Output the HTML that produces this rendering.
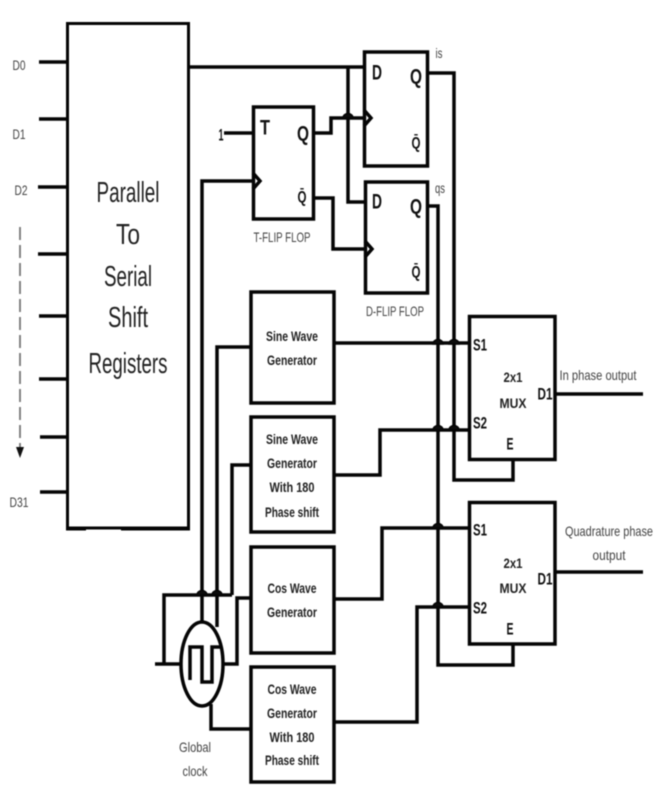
<!DOCTYPE html>
<html><head><meta charset="utf-8"><title>Parallel to serial modulator diagram</title>
<style>
html,body{margin:0;padding:0;background:#fff;width:667px;height:802px;overflow:hidden}
svg{display:block;filter:blur(.6px)}
text{font-family:"Liberation Sans",sans-serif;text-anchor:middle;dominant-baseline:central;fill:#333}
.g{fill:#444;font-size:14px}
.s{font-size:14px;font-weight:bold;fill:#222}
.l{font-size:21px;font-weight:bold;fill:#111}
.m{font-size:17px;font-weight:bold;fill:#111}
.b{font-size:29px;fill:#222}
.h{fill:#0c0c0c;stroke-width:1.5}
</style></head><body>
<svg width="667" height="802" viewBox="0 0 667 802" xmlns="http://www.w3.org/2000/svg">
<rect width="667" height="802" fill="#fff"/>
<g fill="none" stroke="#050505" stroke-width="3.5">
<!-- main register -->
<rect x="67.5" y="23.5" width="121" height="504.5" stroke-width="3"/>
<path d="M66 528.5H86M121 528.5H190" stroke-width="4"/>
<path d="M39 62H67M39 119H67M38 187H67M38 254H67M39 316H67M39 379H67M40 437H67M40 492H67" stroke-width="3.5"/>
<path d="M20 227V448" stroke="#777" stroke-width="1.8" stroke-dasharray="13 5"/>
<!-- flip flops -->
<rect x="364.5" y="52" width="63" height="114"/>
<rect x="253.5" y="107" width="60" height="112"/>
<rect x="365.5" y="182" width="62" height="111"/>
<path d="M364 110L371 118L364 126"/><path d="M253 173L260 181L253 189"/><path d="M365 241L372 249L365 257"/>
<!-- generators -->
<rect x="251" y="292" width="83" height="111"/>
<rect x="251" y="417" width="83" height="115"/>
<rect x="251" y="547" width="83" height="106"/>
<rect x="251" y="667" width="83" height="115"/>
<!-- muxes -->
<rect x="469.5" y="316.5" width="85.5" height="143"/>
<rect x="469.5" y="502.5" width="85.5" height="141.5"/>
<!-- wires -->
<path d="M188 67H364"/>
<path d="M348 67V202H365"/>
<path d="M224 133H253"/>
<path d="M313 133H331V118H364"/>
<path d="M313 198H333V249H365"/>
<path d="M427 73H454V480H513V459"/>
<path d="M427 206H438V665H513V644"/>
<path d="M202 622V181H253"/>
<path d="M217 627V347H251"/>
<path d="M232 595V465H251"/>
<path d="M334 343H469"/>
<path d="M334 475H380V430H469"/>
<path d="M334 599H382V528H469"/>
<path d="M334 722H417V607H469"/>
<path d="M555 394H643M555 572H643"/>
<!-- clock -->
<ellipse cx="202" cy="664" rx="21" ry="42"/>
<path d="M190 680V647H202V682H212V647H221"/>
<path d="M155 664H181"/>
<path d="M164 664V595H232"/>
<path d="M223 664H237V598H251"/>
<path d="M211 704V729H251"/>
<!-- humps -->
<g class="h">
<path d="M343 118a5 4.5 0 0 1 10 0Z"/>
<path d="M433 344a5 4.5 0 0 1 10 0ZM449 344a5 4.5 0 0 1 10 0Z"/>
<path d="M433 430a5 4.5 0 0 1 10 0ZM449 430a5 4.5 0 0 1 10 0Z"/>
<path d="M433 528a5 4.5 0 0 1 10 0Z"/>
<path d="M433 607a5 4.5 0 0 1 10 0Z"/>
<path d="M197 595a5 4.5 0 0 1 10 0ZM212 595a5 4.5 0 0 1 10 0Z"/>
</g>
</g>
<path d="M16 447H24L20 458Z" fill="#111"/>
<!-- labels -->
<text class="g" x="19" y="65" textLength="13" lengthAdjust="spacingAndGlyphs">D0</text>
<text class="g" x="19" y="134" textLength="13" lengthAdjust="spacingAndGlyphs">D1</text>
<text class="g" x="21" y="190" textLength="13" lengthAdjust="spacingAndGlyphs">D2</text>
<text class="g" x="19" y="502" textLength="19" lengthAdjust="spacingAndGlyphs">D31</text>
<text class="b" x="128" y="193" textLength="63" lengthAdjust="spacingAndGlyphs">Parallel</text>
<text class="b" x="128" y="235" textLength="24" lengthAdjust="spacingAndGlyphs">To</text>
<text class="b" x="128" y="277" textLength="48" lengthAdjust="spacingAndGlyphs">Serial</text>
<text class="b" x="128" y="318" textLength="40" lengthAdjust="spacingAndGlyphs">Shift</text>
<text class="b" x="128" y="364" textLength="79" lengthAdjust="spacingAndGlyphs">Registers</text>
<text class="m" x="221" y="135" textLength="5" lengthAdjust="spacingAndGlyphs">1</text>
<text class="l" x="265" y="128" textLength="10" lengthAdjust="spacingAndGlyphs">T</text>
<text class="l" x="303" y="134" textLength="12" lengthAdjust="spacingAndGlyphs">Q</text>
<text class="m" x="302" y="197" textLength="9" lengthAdjust="spacingAndGlyphs">Q̄</text>
<text class="l" x="377" y="73" textLength="10" lengthAdjust="spacingAndGlyphs">D</text>
<text class="l" x="416" y="77" textLength="12" lengthAdjust="spacingAndGlyphs">Q</text>
<text class="m" x="416" y="143" textLength="9" lengthAdjust="spacingAndGlyphs">Q̄</text>
<text class="l" x="377" y="202" textLength="10" lengthAdjust="spacingAndGlyphs">D</text>
<text class="l" x="416" y="207" textLength="12" lengthAdjust="spacingAndGlyphs">Q</text>
<text class="m" x="416" y="272" textLength="9" lengthAdjust="spacingAndGlyphs">Q̄</text>
<text class="g" x="439" y="53" textLength="7" lengthAdjust="spacingAndGlyphs">is</text>
<text class="g" x="440" y="188" textLength="10" lengthAdjust="spacingAndGlyphs">qs</text>
<text class="g" x="282" y="237" textLength="57" lengthAdjust="spacingAndGlyphs">T-FLIP FLOP</text>
<text class="g" x="395" y="311" textLength="58" lengthAdjust="spacingAndGlyphs">D-FLIP FLOP</text>
<text class="s" x="292" y="336" textLength="52" lengthAdjust="spacingAndGlyphs">Sine Wave</text>
<text class="s" x="292" y="360" textLength="50" lengthAdjust="spacingAndGlyphs">Generator</text>
<text class="s" x="292" y="439" textLength="52" lengthAdjust="spacingAndGlyphs">Sine Wave</text>
<text class="s" x="292" y="463" textLength="50" lengthAdjust="spacingAndGlyphs">Generator</text>
<text class="s" x="292" y="487" textLength="45" lengthAdjust="spacingAndGlyphs">With 180</text>
<text class="s" x="292" y="512" textLength="54" lengthAdjust="spacingAndGlyphs">Phase shift</text>
<text class="s" x="292" y="588" textLength="49" lengthAdjust="spacingAndGlyphs">Cos Wave</text>
<text class="s" x="292" y="612" textLength="50" lengthAdjust="spacingAndGlyphs">Generator</text>
<text class="s" x="292" y="689" textLength="49" lengthAdjust="spacingAndGlyphs">Cos Wave</text>
<text class="s" x="292" y="713" textLength="50" lengthAdjust="spacingAndGlyphs">Generator</text>
<text class="s" x="292" y="737" textLength="45" lengthAdjust="spacingAndGlyphs">With 180</text>
<text class="s" x="292" y="760" textLength="54" lengthAdjust="spacingAndGlyphs">Phase shift</text>
<text class="g" x="195" y="747" textLength="32" lengthAdjust="spacingAndGlyphs">Global</text>
<text class="g" x="195" y="771" textLength="25" lengthAdjust="spacingAndGlyphs">clock</text>
<text class="m" x="480" y="345" textLength="14" lengthAdjust="spacingAndGlyphs">S1</text>
<text class="m" x="480" y="423" textLength="14" lengthAdjust="spacingAndGlyphs">S2</text>
<text class="s" x="513" y="377" textLength="19" lengthAdjust="spacingAndGlyphs">2x1</text>
<text class="s" x="513" y="403" textLength="27" lengthAdjust="spacingAndGlyphs">MUX</text>
<text class="m" x="545" y="394" textLength="15" lengthAdjust="spacingAndGlyphs">D1</text>
<text class="m" x="510" y="444" textLength="7" lengthAdjust="spacingAndGlyphs">E</text>
<text class="m" x="480" y="530" textLength="14" lengthAdjust="spacingAndGlyphs">S1</text>
<text class="m" x="480" y="608" textLength="14" lengthAdjust="spacingAndGlyphs">S2</text>
<text class="s" x="513" y="563" textLength="19" lengthAdjust="spacingAndGlyphs">2x1</text>
<text class="s" x="513" y="588" textLength="27" lengthAdjust="spacingAndGlyphs">MUX</text>
<text class="m" x="545" y="579" textLength="15" lengthAdjust="spacingAndGlyphs">D1</text>
<text class="m" x="510" y="629" textLength="7" lengthAdjust="spacingAndGlyphs">E</text>
<text class="g" x="598" y="375" textLength="77" lengthAdjust="spacingAndGlyphs">In phase output</text>
<text class="g" x="609" y="531" textLength="88" lengthAdjust="spacingAndGlyphs">Quadrature phase</text>
<text class="g" x="609" y="555" textLength="33" lengthAdjust="spacingAndGlyphs">output</text>
</svg>
</body></html>
